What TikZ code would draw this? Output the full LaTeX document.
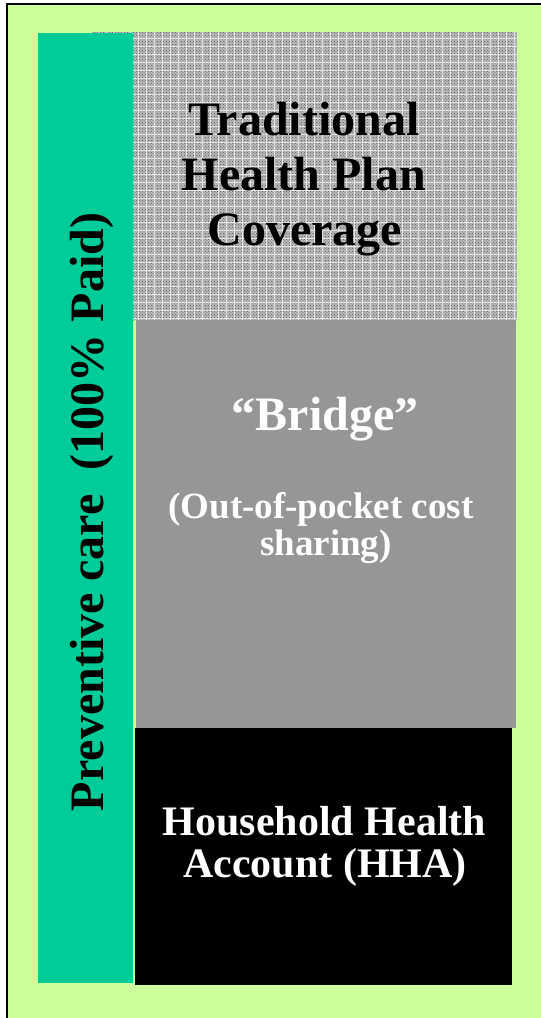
\documentclass[tikz,border=0pt]{standalone}
\usepackage{fontspec}
\setmainfont{Liberation Serif}
\usetikzlibrary{patterns}
\definecolor{bgreen}{HTML}{CCFF99}
\definecolor{teal}{HTML}{00CC99}
\definecolor{midgray}{HTML}{969696}
\definecolor{patgray}{HTML}{B8B8B8}
\begin{document}
\begin{tikzpicture}[x=1pt,y=-1pt,
  box/.style={inner sep=0pt,outer sep=0pt,anchor=north west},
  big/.style={font=\bfseries\fontsize{48}{55}\selectfont,inner sep=0pt,anchor=base},
  mid/.style={font=\bfseries\fontsize{42}{44}\selectfont,inner sep=0pt,anchor=base},
  small/.style={font=\bfseries\fontsize{37}{37}\selectfont,inner sep=0pt,anchor=base}]
\useasboundingbox[fill=white] (0,0) rectangle (541,1018);
% outer frame
\path[fill=bgreen] (7,4) rectangle (545,1022);
\draw[line width=2pt] (7,1022) -- (7,4) -- (545,4);
% traditional coverage (patterned)
\path[fill=patgray] (92,32) rectangle (517,320);
\path[pattern=crosshatch dots, pattern color=black!65] (92,32) rectangle (517,320);
\begin{scope}
\clip (92,32) rectangle (517,320);
\draw[white,line width=0.6pt,opacity=0.7,xshift=2pt,yshift=2pt] (88,28) grid[step=8pt] (520,324);
\end{scope}
\node[box,minimum width=383pt,minimum height=288pt] (trad) at (134,32) {};
% bridge
\node[box,fill=midgray,minimum width=380pt,minimum height=408pt] (bridge) at (136,320) {};
% HHA
\node[box,fill=black,minimum width=377pt,minimum height=257pt] (hha) at (135,728) {};
% preventive bar
\node[box,fill=teal,minimum width=95pt,minimum height=950pt] (prev) at (38,33) {};
% texts
\node[big] (t1) at (304,135) {Traditional};
\node[big] (t2) at (304,190) {Health Plan};
\node[big] (t3) at (305,245) {Coverage};
\node[big,text=white] (b1) at (325,430) {“Bridge”};
\node[small,text=white] (b2) at (321,518) {(Out-of-pocket cost};
\node[small,text=white] (b3) at (326,555) {sharing)};
\node[mid,text=white] (h1) at (324.5,835) {Household Health};
\node[mid,text=white] (h2) at (325,877) {Account (HHA)};
\node[big,rotate=90] (p1) at (103,512) {Preventive care\ \ (100\% Paid)};
\end{tikzpicture}
\end{document}
